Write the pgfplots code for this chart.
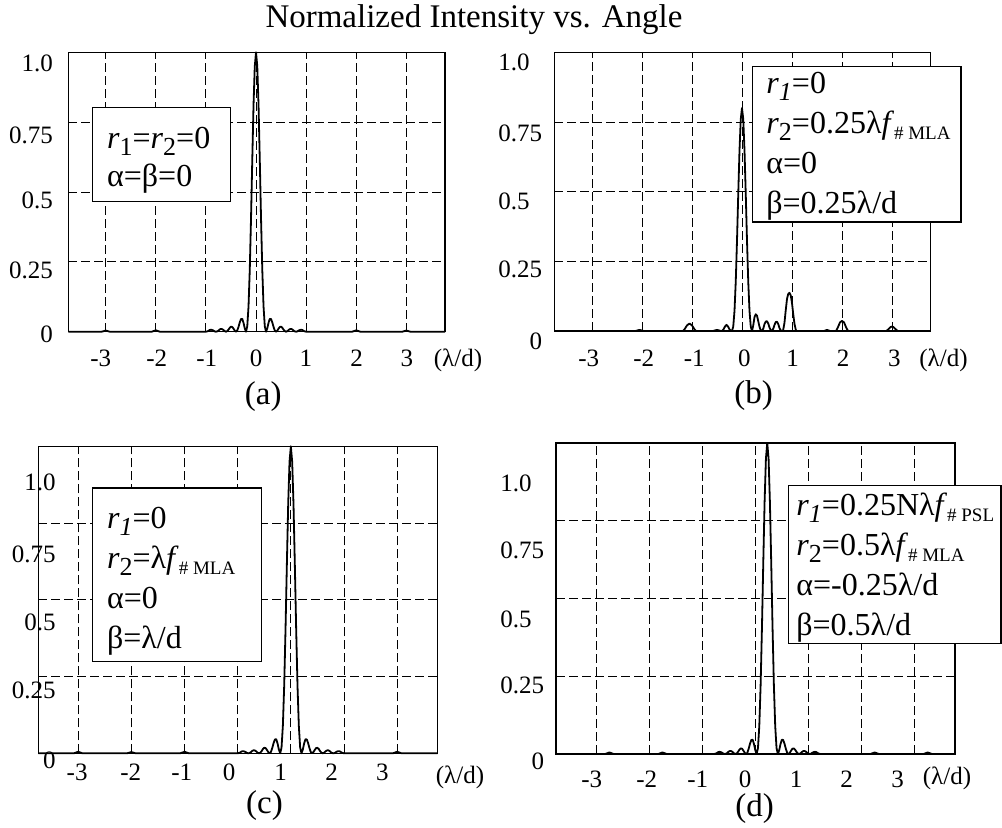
\documentclass[border=0pt]{standalone}
\usepackage{fontspec}
\setmainfont{Liberation Serif}
\usepackage{pgfplots}
\pgfplotsset{compat=1.18}

\newcommand{\sub}[1]{\raisebox{-3.5pt}{\fontsize{13}{15}\selectfont #1}}
\newcommand{\subt}[1]{\raisebox{-3pt}{\fontsize{9.5}{11}\selectfont #1}}
\newcommand{\lgfont}{\fontsize{16}{19}\selectfont}

\pgfplotsset{
  panel/.style={
    scale only axis, clip=false, no markers,
    anchor=south west, ymin=0, ymax=1,
    axis line style={line width=0.7pt},
    major tick length=0pt,
    xmajorgrids=false, ymajorgrids=false,
    tick label style={font=\fontsize{12.5}{15}\selectfont, inner sep=0pt},
    xticklabel style={anchor=center},
    extra x ticks={-3,-2,-1,0,1,2,3}, extra x tick labels={},
    extra y ticks={0.25,0.5,0.75}, extra y tick labels={},
    extra x tick style={grid=major},
    extra y tick style={grid=major},
    major grid style={black, line width=0.45pt, dash pattern=on 4.5pt off 2pt},
  },
  curve/.style={black, line width=0.9pt, line join=round},
}

\begin{document}
\begin{tikzpicture}
\useasboundingbox (0,0) rectangle (501pt,414pt);

\node[anchor=base, font=\fontsize{16.5}{20}\selectfont] at (237pt,400.35pt) {Normalized Intensity vs. Angle};

% (a)
\begin{axis}[panel, at={(34.15pt,248.15pt)}, width=188.35pt, height=139.7pt,
  xmin=-3.747, xmax=3.772,
  xtick={-3.098,-1.98,-0.985,0.003,0.995,2.01,3.01}, xticklabels={-3,-2,-1,0,1,2,3},
  xticklabel style={yshift=-13.3pt},
  ytick={0,0.229,0.477,0.712,0.969}, yticklabels={0,0.25,0.5,0.75,1.0},
  yticklabel style={anchor=east, xshift=-7.5pt, yshift=-1.15pt}]
\addplot[curve] table {
-3.747 0
-3.08 0
-3.0 0.004
-2.92 0
-2.08 0
-2.0 0.005
-1.92 0
-1.0 0
-0.975 0.001
-0.95 0.003
-0.925 0.006
-0.9 0.007
-0.875 0.006
-0.85 0.004
-0.825 0.001
-0.8 0
-0.775 0.001
-0.75 0.004
-0.725 0.008
-0.7 0.010
-0.675 0.009
-0.65 0.006
-0.625 0.002
-0.6 0
-0.575 0.002
-0.55 0.007
-0.525 0.014
-0.5 0.018
-0.475 0.017
-0.45 0.011
-0.425 0.004
-0.4 0
-0.375 0.004
-0.35 0.017
-0.325 0.033
-0.3 0.045
-0.275 0.046
-0.25 0.032
-0.225 0.012
-0.2 0
-0.175 0.019
-0.15 0.090
-0.125 0.221
-0.1 0.405
-0.075 0.615
-0.05 0.811
-0.025 0.950
0 1.0
0.025 0.950
0.05 0.811
0.075 0.615
0.1 0.405
0.125 0.221
0.15 0.090
0.175 0.019
0.2 0
0.225 0.012
0.25 0.032
0.275 0.046
0.3 0.045
0.325 0.033
0.35 0.017
0.375 0.004
0.4 0
0.425 0.004
0.45 0.011
0.475 0.017
0.5 0.018
0.525 0.014
0.55 0.007
0.575 0.002
0.6 0
0.625 0.002
0.65 0.006
0.675 0.009
0.7 0.010
0.725 0.008
0.75 0.004
0.775 0.001
0.8 0
0.825 0.001
0.85 0.004
0.875 0.006
0.9 0.007
0.925 0.006
0.95 0.003
0.975 0.001
1.0 0
1.92 0
2.0 0.005
2.08 0
2.92 0
3.0 0.004
3.08 0
3.772 0
};
\end{axis}

% (b)
\begin{axis}[panel, at={(277.15pt,248.5pt)}, width=188pt, height=139.35pt,
  xmin=-3.754, xmax=3.766,
  xtick={-3.066,-1.966,-0.954,0.046,1.014,2.02,3.046}, xticklabels={-3,-2,-1,0,1,2,3},
  xticklabel style={yshift=-13.65pt},
  ytick={0,0.26,0.502,0.748,1.0}, yticklabels={\phantom{0.2}0,0.25,0.5,0.75,1.0},
  yticklabel style={anchor=west, xshift=-28.15pt, yshift=-5.25pt}]
\addplot[curve] table {
-3.754 0
-2.13 0
-2.05 0.004
-1.97 0
-1.18 0
-1.15 0.006
-1.1 0.020
-1.05 0.027
-1.0 0.020
-0.95 0.006
-0.92 0
-0.58 0
-0.5 0.004
-0.42 0
-0.4 0
-0.37 0.006
-0.34 0.016
-0.31 0.022
-0.28 0.016
-0.25 0.006
-0.22 0
-0.2 0
-0.175 0.016
-0.15 0.072
-0.125 0.177
-0.1 0.324
-0.075 0.492
-0.05 0.648
-0.025 0.760
0 0.8
0.025 0.760
0.05 0.648
0.075 0.492
0.1 0.324
0.125 0.177
0.15 0.072
0.175 0.016
0.2 0
0.225 0.020
0.25 0.050
0.275 0.060
0.3 0.055
0.325 0.035
0.35 0.015
0.375 0.002
0.4 0
0.425 0.008
0.45 0.025
0.475 0.034
0.5 0.035
0.525 0.027
0.55 0.012
0.575 0.003
0.6 0
0.625 0.008
0.65 0.022
0.675 0.032
0.7 0.033
0.725 0.025
0.75 0.010
0.775 0.002
0.8 0
0.82 0
0.85 0.030
0.875 0.075
0.9 0.115
0.925 0.133
0.95 0.137
0.975 0.128
1.0 0.100
1.025 0.060
1.05 0.025
1.075 0.005
1.09 0
1.64 0
1.7 0.004
1.76 0
1.88 0
1.92 0.014
1.96 0.031
2.0 0.036
2.04 0.031
2.08 0.014
2.12 0
2.89 0
2.93 0.007
2.97 0.014
3.0 0.016
3.03 0.014
3.07 0.007
3.11 0
3.766 0
};
\end{axis}

% (c)
\begin{axis}[panel, at={(19.15pt,37.35pt)}, width=199.7pt, height=153.5pt,
  xmin=-3.75, xmax=3.762,
  xtick={-3.02,-2.01,-1.053,-0.16,0.81,1.768,2.723}, xticklabels={-3,-2,-1,0,1,2,3},
  xticklabel style={yshift=-9.5pt},
  ytick={0,0.228,0.451,0.673,0.907}, yticklabels={0,0.25,0.5,0.75,1.0},
  yticklabel style={anchor=east, xshift=8.85pt, yshift=-3.7pt}]
\addplot[curve] table {
-3.75 0
-3.08 0
-3.0 0.005
-2.92 0
-2.08 0
-2.0 0.004
-1.92 0
-1.08 0
-1.0 0.005
-0.92 0
0 0
0.025 0.001
0.05 0.003
0.075 0.006
0.1 0.007
0.125 0.006
0.15 0.004
0.175 0.001
0.2 0
0.225 0.001
0.25 0.004
0.275 0.008
0.3 0.010
0.325 0.009
0.35 0.006
0.375 0.002
0.4 0
0.425 0.002
0.45 0.007
0.475 0.014
0.5 0.018
0.525 0.017
0.55 0.011
0.575 0.004
0.6 0
0.625 0.004
0.65 0.017
0.675 0.033
0.7 0.045
0.725 0.046
0.75 0.032
0.775 0.012
0.8 0
0.825 0.019
0.85 0.090
0.875 0.221
0.9 0.405
0.925 0.615
0.95 0.811
0.975 0.950
1.0 1.0
1.025 0.950
1.05 0.811
1.075 0.615
1.1 0.405
1.125 0.221
1.15 0.090
1.175 0.019
1.2 0
1.225 0.012
1.25 0.032
1.275 0.046
1.3 0.045
1.325 0.033
1.35 0.017
1.375 0.004
1.4 0
1.425 0.004
1.45 0.011
1.475 0.017
1.5 0.018
1.525 0.014
1.55 0.007
1.575 0.002
1.6 0
1.625 0.002
1.65 0.006
1.675 0.009
1.7 0.010
1.725 0.008
1.75 0.004
1.775 0.001
1.8 0
1.825 0.001
1.85 0.004
1.875 0.006
1.9 0.007
1.925 0.006
1.95 0.003
1.975 0.001
2.0 0
2.92 0
3.0 0.005
3.08 0
3.762 0
};
\end{axis}

% (d)
\begin{axis}[panel, at={(278pt,37pt)}, width=199.5pt, height=155.5pt,
  xmin=-3.757, xmax=3.764,
  xtick={-3.084,-2.047,-1.085,-0.194,0.767,1.72,2.68}, xticklabels={-3,-2,-1,0,1,2,3},
  xticklabel style={yshift=-12.75pt},
  ytick={0,0.244,0.459,0.678,0.896}, yticklabels={\phantom{0.2}0,0.25,0.5,0.75,1.0},
  yticklabel style={anchor=west, xshift=-28pt, yshift=-3.85pt}]
\addplot[curve] table {
-3.757 0
-2.83 0
-2.75 0.005
-2.67 0
-1.83 0
-1.75 0.005
-1.67 0
-0.775 0
-0.75 0.001
-0.725 0.003
-0.7 0.006
-0.675 0.007
-0.65 0.006
-0.625 0.004
-0.6 0.001
-0.575 0
-0.55 0.001
-0.525 0.004
-0.5 0.008
-0.475 0.010
-0.45 0.009
-0.425 0.006
-0.4 0.002
-0.375 0
-0.35 0.002
-0.325 0.007
-0.3 0.014
-0.275 0.018
-0.25 0.017
-0.225 0.011
-0.2 0.004
-0.175 0
-0.15 0.004
-0.125 0.017
-0.1 0.033
-0.075 0.045
-0.05 0.046
-0.025 0.032
0 0.012
0.025 0
0.05 0.019
0.075 0.090
0.1 0.221
0.125 0.405
0.15 0.615
0.175 0.811
0.2 0.950
0.225 1.0
0.25 0.950
0.275 0.811
0.3 0.615
0.325 0.405
0.35 0.221
0.375 0.090
0.4 0.019
0.425 0
0.45 0.012
0.475 0.032
0.5 0.046
0.525 0.045
0.55 0.033
0.575 0.017
0.6 0.004
0.625 0
0.65 0.004
0.675 0.011
0.7 0.017
0.725 0.018
0.75 0.014
0.775 0.007
0.8 0.002
0.825 0
0.85 0.002
0.875 0.006
0.9 0.009
0.925 0.010
0.95 0.008
0.975 0.004
1.0 0.001
1.025 0
1.05 0.001
1.075 0.004
1.1 0.006
1.125 0.007
1.15 0.006
1.175 0.003
1.2 0.001
1.225 0
2.17 0
2.25 0.005
2.33 0
3.17 0
3.25 0.005
3.33 0
3.764 0
};
\end{axis}

% axis unit labels and panel captions
\begin{scope}[font=\fontsize{12.5}{15}\selectfont]
\node[anchor=base] at (229pt,230.75pt) {(λ/d)};
\node[anchor=base] at (471.75pt,230.75pt) {(λ/d)};
\node[anchor=base] at (230pt,22pt) {(λ/d)};
\node[anchor=base] at (473.5pt,21.5pt) {(λ/d)};
\end{scope}
\begin{scope}[font=\fontsize{16.5}{20}\selectfont]
\node at (131.65pt,215.5pt) {(a)};
\node at (376.75pt,216pt) {(b)};
\node at (132.25pt,11pt) {(c)};
\node at (377.25pt,9.5pt) {(d)};
\end{scope}

% parameter boxes
\begin{scope}[every node/.style={anchor=base west, inner sep=0pt, font=\lgfont}]
\draw[line width=0.6pt, fill=white] (46.35pt,313.15pt) rectangle (115.35pt,360.15pt);
\node at (53.35pt,339.85pt) {\textit{r}\sub{1}=\textit{r}\sub{2}=0};
\node at (53.35pt,320.65pt) {α=β=0};

\draw[line width=0.6pt, fill=white] (376.35pt,303pt) rectangle (480.5pt,380.65pt);
\node at (383pt,367.35pt) {\textit{r}\sub{\textit{1}}=0};
\node at (383pt,347.35pt) {\textit{r}\sub{2}=0.25λ\textit{f}\subt{\# MLA}};
\node at (383pt,327.35pt) {α=0};
\node at (383pt,307.35pt) {β=0.25λ/d};

\draw[line width=0.6pt, fill=white] (46.35pt,83.35pt) rectangle (130.85pt,170pt);
\node at (53.35pt,149.5pt) {\textit{r}\sub{\textit{1}}=0};
\node at (53.35pt,129.5pt) {\textit{r}\sub{2}=λ\textit{f}\subt{\# MLA}};
\node at (53.35pt,109.5pt) {α=0};
\node at (53.35pt,89.5pt) {β=λ/d};

\draw[line width=0.6pt, fill=white] (394.15pt,92.35pt) rectangle (500.5pt,171.15pt);
\node at (398pt,156.15pt) {\textit{r}\sub{\textit{1}}=0.25Nλ\textit{f}\subt{\# PSL}};
\node at (398pt,136.15pt) {\textit{r}\sub{2}=0.5λ\textit{f}\subt{\# MLA}};
\node at (398pt,116.15pt) {α=-0.25λ/d};
\node at (398pt,96.15pt) {β=0.5λ/d};
\end{scope}
\end{tikzpicture}
\end{document}
